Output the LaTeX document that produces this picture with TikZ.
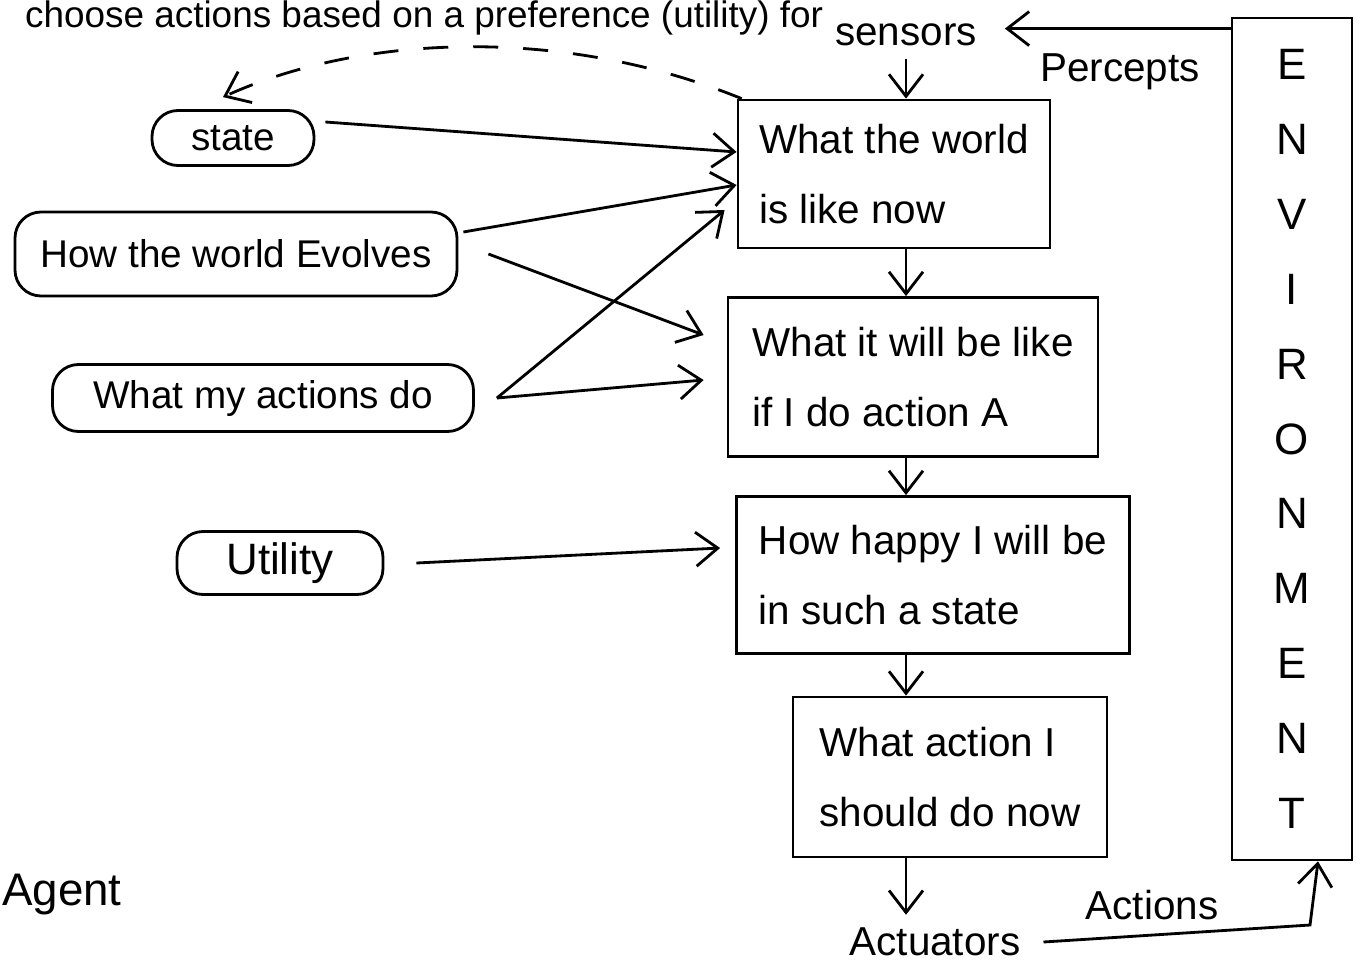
\documentclass[tikz,border=0pt]{standalone}
\usepackage{fontspec}
\setmainfont{Liberation Sans}
\usetikzlibrary{arrows.meta}

\begin{document}
\begin{tikzpicture}[x=0.1mm, y=-0.1mm, line width=0.8pt,
    >={Straight Barb[length=2.2mm,width=3.4mm]},
    box/.style={draw, align=left, inner sep=0pt,
        font=\fontsize{11.5}{20}\selectfont},
    pill/.style={draw, rounded corners=2.6mm, inner sep=0pt,
        font=\fontsize{11}{13}\selectfont},
    lbl/.style={font=\fontsize{11.5}{14}\selectfont}]
    \useasboundingbox (0,0) rectangle (1362,966);

    % line at the top of the page
    \node[lbl, anchor=base west, font=\fontsize{10.5}{12}\selectfont]
        (note) at (12,28)
        {choose actions based on a preference (utility) for};

    % knowledge of the agent
    \node[pill, minimum width=16.2mm, minimum height=5.5mm]
        (state) at (233,138) {state};
    \node[pill, minimum width=44.2mm, minimum height=8.4mm]
        (evolves) at (236,254) {How the world Evolves};
    \node[pill, minimum width=42.1mm, minimum height=6.7mm]
        (actdo) at (263,398) {What my actions do};
    \node[pill, minimum width=20.6mm, minimum height=6.3mm,
        font=\fontsize{12.5}{14}\selectfont]
        (utility) at (280,563) {Utility};

    % main chain
    \node[box, minimum width=31.2mm, minimum height=14.8mm]
        (now) at (894,174) {What the world\\ is like now};
    \node[box, minimum width=37mm, minimum height=15.9mm]
        (willbe) at (913,377) {What it will be like\\ if I do action A};
    \node[box, minimum width=39.3mm, minimum height=15.7mm]
        (happy) at (933,575) {How happy I will be\\ in such a state};
    \node[box, minimum width=31.4mm, minimum height=16mm]
        (todo) at (950,777) {What action I\\ should do now};

    \node[lbl] (sensors) at (906,35) {sensors};
    \node[lbl] (actuators) at (935,942) {Actuators};
    \node[lbl] (percepts) at (1120,72) {Percepts};
    \node[lbl] (actions) at (1152,905) {Actions};
    \node[lbl, font=\fontsize{13}{15}\selectfont] (agent) at (62,895) {Agent};

    % environment
    \node[draw, minimum width=12mm, minimum height=84.2mm, align=center,
        inner sep=0pt, font=\fontsize{12.5}{21.3}\selectfont]
        (env) at (1292,439) {E\\ N\\ V\\ I\\ R\\ O\\ N\\ M\\ E\\ N\\ T};
    \coordinate (envtop) at ([yshift=-1.2mm]env.north west);
    \coordinate (turn) at (1310,925);

    % connectors
    \draw[->] (envtop) -- ([xshift=1.5mm]envtop -| sensors.east);
    \draw[->] (sensors.south) -- (now.north -| sensors.south);
    \draw[->] (now.south -| sensors) -- (willbe.north -| sensors);
    \draw[->] (willbe.south -| sensors) -- (happy.north -| sensors);
    \draw[->] (happy.south -| sensors) -- (todo.north -| sensors);
    \draw[->] (todo.south -| sensors) -- (actuators.north -| sensors);
    \draw[->] ([xshift=1mm]actuators.east) -- (turn)
        -- ([xshift=2.6mm]env.south);

    \draw[->] ([xshift=1mm,yshift=1.6mm]state.east)
        -- ([yshift=2.2mm]now.west);
    \draw[->] ([xshift=0.5mm,yshift=2.2mm]evolves.east)
        -- ([yshift=-1.1mm]now.west);
    \draw[->] ([xshift=3mm]evolves.east)
        -- ([xshift=-2.3mm,yshift=4.2mm]willbe.west);
    \draw[->] ([xshift=2.2mm]actdo.east) -- ([xshift=-1.2mm,yshift=-3.6mm]now.west);
    \draw[->] ([xshift=2.2mm]actdo.east) -- ([xshift=-2.3mm,yshift=-0.3mm]willbe.west);
    \draw[->] ([xshift=3.2mm]utility.east) -- ([xshift=-1.5mm,yshift=2.7mm]happy.west);

    \draw[dashed, dash pattern=on 2.5mm off 2.5mm, ->]
        ([xshift=0.5mm]now.north west) .. controls (560,25) and (360,35)
        .. ([xshift=-1mm,yshift=1.2mm]state.north);
\end{tikzpicture}
\end{document}
